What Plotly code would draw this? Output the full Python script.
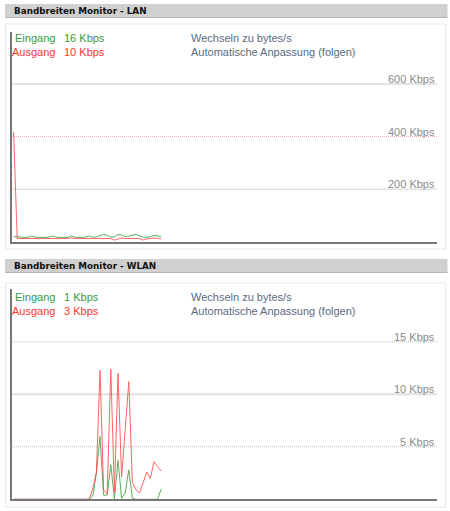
import plotly.graph_objects as go

W, H = 450, 511

# ---------------- data ----------------
samples = list(range(42))

lan_in = [20, 19, 16, 16, 17, 22, 17, 16, 16, 16, 18, 21, 17, 16, 16, 16, 23, 17, 16, 16, 17,
          22, 17, 18, 24, 28, 25, 18, 18, 27, 26, 20, 21, 25, 28, 22, 17, 17, 19, 24, 21, 20]
lan_out = [419, 12, 12, 12, 12, 14, 12, 12, 12, 12, 12, 14, 12, 12, 12, 12, 15, 12, 12, 12, 12,
           14, 12, 12, 12, 13, 12, 12, 6, 11, 14, 12, 12, 12, 14, 12, 6, 11, 12, 14, 12, 11]

wlan_in = [0] * 22 + [0.3, 2.5, 6.0, 0.4, 0.4, 3.3, 0, 3.7, 0.1, 0.6, 2.8, 0.1,
                      0, 0, 0, 0, 0, 0, 0, 1.0]
wlan_out = [0] * 22 + [1.0, 2.6, 12.3, 0.9, 0.5, 12.4, 0.7, 12.0, 2.1, 6.5, 11.2, 1.6,
                       0.9, 0.6, 1.6, 2.6, 2.0, 3.6, 3.1, 2.7]

lan_ticks = [200, 400, 600]
lan_tick_labels = ["200 Kbps", "400 Kbps", "600 Kbps"]
wlan_ticks = [5, 10, 15]
wlan_tick_labels = ["5 Kbps", "10 Kbps", "15 Kbps"]

panels = [
    dict(title="Bandbreiten Monitor - LAN", cur_in="16 Kbps", cur_out="10 Kbps",
         ymax=800, ticks=lan_ticks, labels=lan_tick_labels, yin=lan_in, yout=lan_out),
    dict(title="Bandbreiten Monitor - WLAN", cur_in="1 Kbps", cur_out="3 Kbps",
         ymax=20, ticks=wlan_ticks, labels=wlan_tick_labels, yin=wlan_in, yout=wlan_out),
]

# ---------------- style ----------------
GREEN = "#3a9a3a"
RED = "#ff3333"
SLATE = "#5b6a7f"
BODY = "Liberation Sans, Arial, sans-serif"
HEAD = "DejaVu Sans, Verdana, sans-serif"
FINE_DOT = "1px,1px"

grid_styles = [
    [dict(color="#d2d2d2", width=1, dash="solid"),
     dict(color="#f0a8a8", width=1, dash=FINE_DOT),
     dict(color="#e3e3e3", width=2, dash="solid")],
    [dict(color="#bcbcbc", width=1, dash=FINE_DOT),
     dict(color="#e0e0e0", width=2, dash="solid"),
     dict(color="#bcbcbc", width=1, dash=FINE_DOT)],
]

# pixel layout of each panel
geo = [
    dict(head=(4, 17.5), box=(24, 249), plot=(31.5, 241.7), txt=(38.5, 52.5)),
    dict(head=(259, 272.5), box=(283, 507), plot=(289.3, 499.3), txt=(297, 311)),
]

def py(v):
    return 1 - v / H

def px(v):
    return v / W

x0_px, x1_px = 12, 437
xrange_ = [-0.444, 117.61]

fig = go.Figure()
shapes = []
annotations = []

for k, (p, g) in enumerate(zip(panels, geo)):
    n = "" if k == 0 else str(k + 1)
    xa, ya = "x" + n, "y" + n
    # header bar
    shapes.append(dict(type="rect", xref="paper", yref="paper", x0=px(5), x1=px(447.5),
                       y0=py(g["head"][1]), y1=py(g["head"][0]),
                       fillcolor="#d0d0d0", line=dict(width=0), layer="below"))
    shapes.append(dict(type="line", xref="paper", yref="paper", x0=px(5), x1=px(447.5),
                       y0=py(g["head"][1]), y1=py(g["head"][1]),
                       line=dict(color="#b4b4b4", width=1)))
    annotations.append(dict(text="<b>%s</b>" % p["title"], xref="paper", yref="paper",
                            x=px(11.5), y=py((g["head"][0] + g["head"][1]) / 2),
                            xanchor="left", yanchor="middle", showarrow=False,
                            font=dict(family=HEAD, size=8.8, color="#111")))
    # panel box
    shapes.append(dict(type="rect", xref="paper", yref="paper", x0=px(5.5), x1=px(445.5),
                       y0=py(g["box"][1]), y1=py(g["box"][0]),
                       fillcolor="white", line=dict(color="#d4d4d4", width=1, dash=FINE_DOT),
                       layer="below"))
    # grid lines
    for t, lab, st in zip(p["ticks"], p["labels"], grid_styles[k]):
        shapes.append(dict(type="line", xref=xa + " domain", yref=ya, x0=0, x1=1, y0=t, y1=t,
                           line=st, layer="below"))
        annotations.append(dict(text=lab, xref=xa + " domain", yref=ya, x=1, y=t,
                                xanchor="right", yanchor="bottom", yshift=-3, showarrow=False,
                                font=dict(family=BODY, size=11, color="#8a8a8a")))
    # legend texts
    ty_in, ty_out = g["txt"]
    for txt, xx, yy, col in [("Eingang", 12.5, ty_in, GREEN), (p["cur_in"], 62, ty_in, GREEN),
                             ("Ausgang", 10, ty_out, RED), (p["cur_out"], 62, ty_out, RED),
                             ("Wechseln zu bytes/s", 188.5, ty_in, SLATE),
                             ("Automatische Anpassung (folgen)", 188.5, ty_out, SLATE)]:
        annotations.append(dict(text=txt, xref="paper", yref="paper", x=px(xx), y=py(yy),
                                xanchor="left", yanchor="middle", showarrow=False,
                                font=dict(family=BODY, size=11, color=col)))
    # traces
    fig.add_trace(go.Scatter(x=samples, y=p["yin"], mode="lines", xaxis=xa, yaxis=ya,
                             line=dict(color="#44a044", width=1), opacity=0.85, showlegend=False))
    fig.add_trace(go.Scatter(x=samples, y=p["yout"], mode="lines", xaxis=xa, yaxis=ya,
                             line=dict(color="#ff4040", width=1), opacity=0.8, showlegend=False))
    axis_common = dict(showline=True, linecolor="#777777", linewidth=1.5, showgrid=False,
                       zeroline=False, showticklabels=False, ticks="", fixedrange=True)
    fig.layout["xaxis" + n] = dict(axis_common, domain=[px(x0_px), px(x1_px)], range=xrange_,
                                   anchor=ya)
    fig.layout["yaxis" + n] = dict(axis_common, domain=[py(g["plot"][1]), py(g["plot"][0])],
                                   range=[0, p["ymax"]], anchor=xa)

fig.update_layout(width=W, height=H, margin=dict(l=0, r=0, t=0, b=0),
                  paper_bgcolor="white", plot_bgcolor="rgba(0,0,0,0)",
                  shapes=shapes, annotations=annotations, showlegend=False)

fig.write_html("out.html", config={"displayModeBar": False})
